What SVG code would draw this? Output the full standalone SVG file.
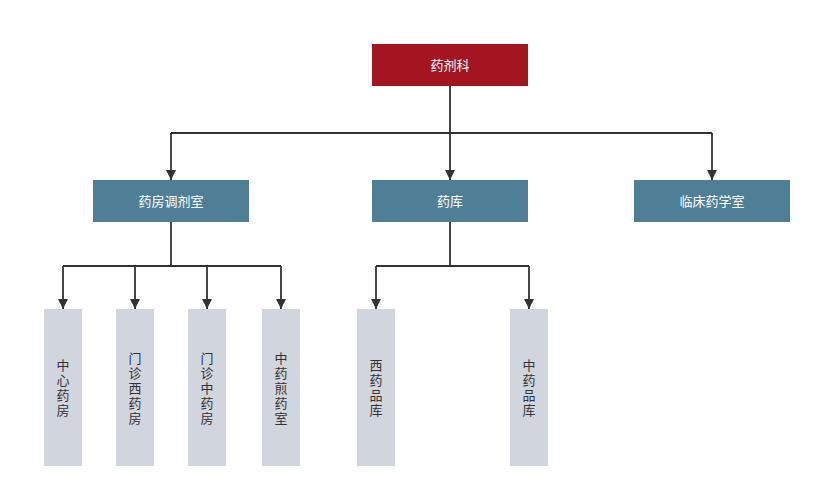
<svg xmlns="http://www.w3.org/2000/svg" width="819" height="496" viewBox="0 0 819 496">
<style>
text{font-family:"Noto Sans CJK SC","Noto Sans",sans-serif;font-size:13px;text-anchor:middle}
.v{writing-mode:vertical-rl;text-orientation:upright;letter-spacing:2px}
.top{fill:#a31621}
.mid{fill:#4e7f96}
.leaf{fill:#d0d5de}
.w{fill:#ffffff}
.d{fill:#333333}
.c{fill:none;stroke:#333333;stroke-width:1.8}
</style>
<defs>
<marker id="ah" viewBox="0 0 10 10" refX="10" refY="5" markerWidth="10" markerHeight="10" markerUnits="userSpaceOnUse" orient="auto">
<path d="M0,0 L10,5 L0,10 z" fill="#333333"/>
</marker>
</defs>
<rect width="819" height="496" fill="#ffffff"/>
<g id="connectors">
<path class="c" d="M450,86 V133"/>
<path class="c" d="M171,133 H712"/>
<path class="c" d="M171,133 V180" marker-end="url(#ah)"/>
<path class="c" d="M450,133 V180" marker-end="url(#ah)"/>
<path class="c" d="M712,133 V180" marker-end="url(#ah)"/>
<path class="c" d="M171,222 V266 M63,266 H281"/>
<path class="c" d="M63,266 V309" marker-end="url(#ah)"/>
<path class="c" d="M135,266 V309" marker-end="url(#ah)"/>
<path class="c" d="M207,266 V309" marker-end="url(#ah)"/>
<path class="c" d="M281,266 V309" marker-end="url(#ah)"/>
<path class="c" d="M450,222 V266 M376,266 H529"/>
<path class="c" d="M376,266 V309" marker-end="url(#ah)"/>
<path class="c" d="M529,266 V309" marker-end="url(#ah)"/>
</g>
<g id="n-root"><rect class="top" x="372" y="44" width="156" height="42"/><text class="w" x="450" y="70">药剂科</text></g>
<g id="n-dispensary"><rect class="mid" x="93" y="180" width="156" height="42"/><text class="w" x="171" y="206">药房调剂室</text></g>
<g id="n-storage"><rect class="mid" x="372" y="180" width="156" height="42"/><text class="w" x="450" y="206">药库</text></g>
<g id="n-clinical"><rect class="mid" x="634" y="180" width="156" height="42"/><text class="w" x="712" y="206">临床药学室</text></g>
<g id="n-central"><rect class="leaf" x="44" y="309" width="38" height="157"/><text class="d v" x="63" y="389">中心药房</text></g>
<g id="n-opwest"><rect class="leaf" x="116" y="309" width="38" height="157"/><text class="d v" x="135" y="389">门诊西药房</text></g>
<g id="n-opchinese"><rect class="leaf" x="188" y="309" width="38" height="157"/><text class="d v" x="207" y="389">门诊中药房</text></g>
<g id="n-decoction"><rect class="leaf" x="262" y="309" width="38" height="157"/><text class="d v" x="281" y="389">中药煎药室</text></g>
<g id="n-weststore"><rect class="leaf" x="357" y="309" width="38" height="157"/><text class="d v" x="376" y="389">西药品库</text></g>
<g id="n-chinesestore"><rect class="leaf" x="510" y="309" width="38" height="157"/><text class="d v" x="529" y="389">中药品库</text></g>
</svg>
